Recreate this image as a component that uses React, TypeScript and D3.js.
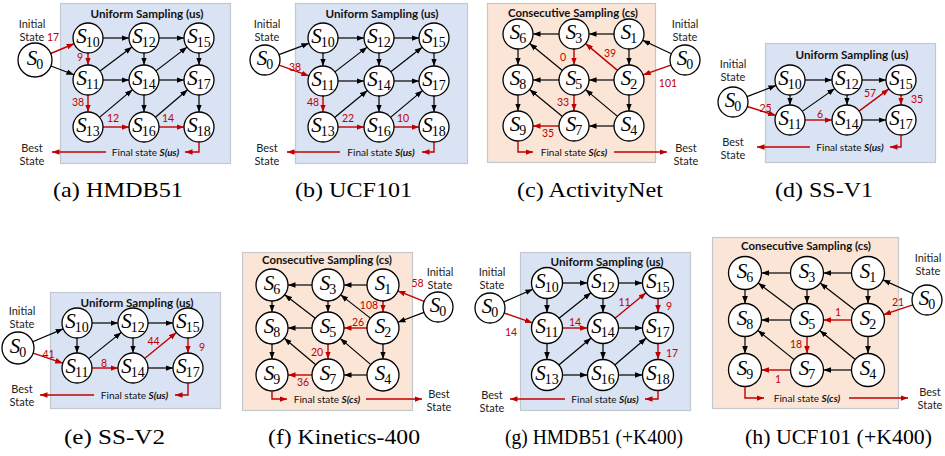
import { useEffect, useRef } from 'react'
import * as d3 from 'd3'

// ---------------- data ----------------
const captions = [
  '(a) HMDB51',
  '(b) UCF101',
  '(c) ActivityNet',
  '(d) SS-V1',
  '(e) SS-V2',
  '(f) Kinetics-400',
  '(g) HMDB51 (+K400)',
  '(h) UCF101 (+K400)',
]

// node ids laid out row by row
const usGrid3 = [['10', '12', '15'], ['11', '14', '17'], ['13', '16', '18']]
const usGrid2 = [['10', '12', '15'], ['11', '14', '17']]
const csGrid3 = [['6', '3', '1'], ['8', '5', '2'], ['9', '7', '4']]

const usEdges = [
  ['0', '10'], ['0', '11'],
  ['10', '12'], ['12', '15'], ['11', '14'], ['14', '17'], ['13', '16'], ['16', '18'],
  ['10', '11'], ['11', '13'], ['12', '14'], ['14', '16'], ['15', '17'], ['17', '18'],
  ['11', '12'], ['14', '15'], ['13', '14'], ['16', '17'],
]
const csEdges = [
  ['0', '1'], ['0', '2'],
  ['1', '3'], ['3', '6'], ['2', '5'], ['5', '8'], ['4', '7'], ['7', '9'],
  ['1', '2'], ['2', '4'], ['3', '5'], ['5', '7'], ['6', '8'], ['8', '9'],
  ['2', '3'], ['5', '6'], ['4', '5'], ['7', '8'],
]

// searched path: [from, to, step count]
const pathA = [['0', '10', '17'], ['10', '11', '9'], ['11', '13', '38'], ['13', '16', '12'], ['16', '18', '14']]
const pathB = [['0', '11', '38'], ['11', '13', '48'], ['13', '16', '22'], ['16', '18', '10']]
const pathC = [['0', '2', '101'], ['2', '3', '39'], ['3', '5', '0'], ['5', '7', '33'], ['7', '9', '35']]
const pathD = [['0', '11', '25'], ['11', '14', '6'], ['14', '15', '57'], ['15', '17', '35']]
const pathE = [['0', '11', '41'], ['11', '14', '8'], ['14', '15', '44'], ['15', '17', '9']]
const pathF = [['0', '1', '58'], ['1', '2', '108'], ['2', '5', '26'], ['5', '7', '20'], ['7', '9', '36']]
const pathG = [['0', '11', '14'], ['11', '14', '14'], ['14', '15', '11'], ['15', '17', '9'], ['17', '18', '17']]
const pathH = [['0', '2', '21'], ['2', '5', '1'], ['5', '7', '18'], ['7', '9', '1']]

// ---------------- layout ----------------
interface Layout {
  box: number[]
  cols: number[]
  rows: number[]
  s0: number[]
  r: number
  r0: number
  title: number[]
  init: number[]
  best: number[]
  final: { y: number; t0: number; t1: number; tip: number }
  cap: number[]
  off: Record<string, number[]>
}

const layouts: Layout[] = [
  { box: [60, 3, 230, 163], cols: [88, 144, 199], rows: [38, 80, 127], s0: [35, 60], r: 15, r0: 17,
    title: [147, 13], init: [32, 23], best: [32, 147], final: { y: 152, t0: 113, t1: 178, tip: 52 },
    cap: [53, 183, 197], off: { '0-10': [-8.5, -12], '10-11': [-8, -2], '11-13': [-10, -1.5], '13-16': [-3, -9], '16-18': [-3.5, -9] } },
  { box: [295, 3, 467, 163], cols: [323, 379, 434], rows: [38, 81, 127], s0: [265, 60], r: 15, r0: 15,
    title: [382, 13], init: [267, 23], best: [267, 147], final: { y: 152, t0: 347, t1: 415, tip: 287 },
    cap: [295, 412, 197], off: { '0-11': [1, -4], '11-13': [-10, -2], '13-16': [-3, -9], '16-18': [-3.5, -9] } },
  { box: [487, 3, 655, 162], cols: [518, 574, 629], rows: [34, 80, 126], s0: [685, 60], r: 15, r0: 15,
    title: [573, 12], init: [685, 23], best: [686, 147], final: { y: 152, t0: 540, t1: 608, tip: 667 },
    cap: [517, 663, 197], off: { '0-2': [11, 13], '2-3': [8.5, -4], '3-5': [-11, 0], '5-7': [-11, -1], '7-9': [2, 7] } },
  { box: [765, 43, 935, 162], cols: [790, 847, 901], rows: [80, 120], s0: [733, 102], r: 15, r0: 15,
    title: [852, 54], init: [733, 63], best: [733, 141], final: { y: 147, t0: 817, t1: 883, tip: 757 },
    cap: [775, 873, 197], off: { '0-11': [4, -3], '11-14': [1.5, -6], '14-15': [-4, -7], '15-17': [16, -1] } },
  { box: [50, 292, 220, 408], cols: [77, 133, 188], rows: [323, 368], s0: [18, 348], r: 15, r0: 16,
    title: [137, 302], init: [22, 310], best: [22, 388], final: { y: 395, t0: 101, t1: 168, tip: 40 },
    cap: [64, 165, 444], off: { '0-11': [1, -4], '11-14': [-1, -5], '14-15': [-7, -5], '15-17': [14, 1] } },
  { box: [242, 252, 412, 410], cols: [272, 328, 383], rows: [285, 328, 375], s0: [438, 307], r: 16, r0: 15,
    title: [327, 259], init: [440, 271], best: [439, 393], final: { y: 399, t0: 294, t1: 360, tip: 422 },
    cap: [268, 420, 444], off: { '0-1': [7, -13], '1-2': [-14, -2], '2-5': [2.5, -6], '5-7': [-11, 0], '7-9': [3, 7] } },
  { box: [520, 252, 690, 410], cols: [547, 603, 658], rows: [283, 328, 375], s0: [490, 308], r: 15.5, r0: 15,
    title: [607, 261], init: [492, 271], best: [492, 394], final: { y: 399, t0: 572, t1: 638, tip: 510 },
    cap: [505, 683, 444], off: { '0-11': [-7.5, 14], '11-14': [0, -6], '14-15': [-6, -4], '15-17': [11, 0], '17-18': [14, 1] } },
  { box: [712, 237, 898, 408], cols: [745, 807, 868], rows: [273, 320, 370], s0: [927, 300], r: 16.5, r0: 15,
    title: [806, 245], init: [928, 257], best: [930, 391], final: { y: 398, t0: 771, t1: 843, tip: 908 },
    cap: [745, 932, 444], off: { '0-2': [0.5, -8], '2-5': [0.5, -8], '5-7': [-11, -1], '7-9': [2, 9] } },
]

const panels = [
  { kind: 'us', grid: usGrid3, path: pathA },
  { kind: 'us', grid: usGrid3, path: pathB },
  { kind: 'cs', grid: csGrid3, path: pathC },
  { kind: 'us', grid: usGrid2, path: pathD },
  { kind: 'us', grid: usGrid2, path: pathE },
  { kind: 'cs', grid: csGrid3, path: pathF },
  { kind: 'us', grid: usGrid3, path: pathG },
  { kind: 'cs', grid: csGrid3, path: pathH },
]

const RED = '#c00000'
const SANS = 'Lato, "Open Sans", sans-serif'
const SERIF = '"Liberation Serif", "Times New Roman", serif'

export default function App() {
  const svgRef = useRef<SVGSVGElement | null>(null)

  useEffect(() => {
    const svg = d3.select(svgRef.current)
    svg.selectAll('*').remove()

    // ================= MARKERS =================
    const defs = svg.append('defs')
    ;[['ah-k', '#000'], ['ah-r', RED]].forEach(([id, c]) => {
      defs
        .append('marker')
        .attr('id', id)
        .attr('viewBox', '0 0 8 6')
        .attr('refX', 8)
        .attr('refY', 3)
        .attr('markerWidth', 7.5)
        .attr('markerHeight', 6)
        .attr('markerUnits', 'userSpaceOnUse')
        .attr('orient', 'auto')
        .append('path')
        .attr('d', 'M0,0L8,3L0,6z')
        .attr('fill', c)
    })

    panels.forEach((p, i) => {
      const L = layouts[i]
      const g = svg.append('g')
      const isUs = p.kind === 'us'

      // ================= SCALES =================
      const x = d3.scaleOrdinal<number, number>().domain([0, 1, 2]).range(L.cols)
      const y = d3.scaleOrdinal<number, number>().domain(d3.range(p.grid.length)).range(L.rows)

      const pos = new Map<string, { x: number; y: number; r: number }>()
      p.grid.forEach((row, ri) =>
        row.forEach((id, ci) => pos.set(id, { x: x(ci), y: y(ri), r: L.r }))
      )
      pos.set('0', { x: L.s0[0], y: L.s0[1], r: L.r0 })

      // ================= BOX =================
      const [bx0, by0, bx1, by1] = L.box
      g.append('rect')
        .attr('x', bx0 + 0.5)
        .attr('y', by0 + 0.5)
        .attr('width', bx1 - bx0)
        .attr('height', by1 - by0)
        .attr('fill', isUs ? '#dae3f3' : '#fbe5d6')
        .attr('stroke', '#c3c8cf')
        .attr('stroke-width', 1.2)

      g.append('text')
        .attr('x', L.title[0])
        .attr('y', L.title[1])
        .attr('text-anchor', 'middle')
        .attr('dominant-baseline', 'central')
        .attr('textLength', isUs ? 113 : 130)
        .attr('lengthAdjust', 'spacingAndGlyphs')
        .style('font-family', SANS)
        .style('font-weight', 700)
        .style('font-size', '11.5px')
        .attr('fill', '#111')
        .text(isUs ? 'Uniform Sampling (us)' : 'Consecutive Sampling (cs)')

      // ================= EDGES =================
      const redKeys = new Set(p.path.map((d) => `${d[0]}-${d[1]}`))
      const edges = (isUs ? usEdges : csEdges).filter(([a, b]) => pos.has(a) && pos.has(b))
      const seg = (a: string, b: string) => {
        const s = pos.get(a)!
        const t = pos.get(b)!
        const dx = t.x - s.x
        const dy = t.y - s.y
        const len = Math.hypot(dx, dy)
        const ux = dx / len
        const uy = dy / len
        return { x1: s.x + ux * s.r, y1: s.y + uy * s.r, x2: t.x - ux * t.r, y2: t.y - uy * t.r }
      }

      const blackEdges = edges.filter(([a, b]) => !redKeys.has(`${a}-${b}`))
      g.selectAll('.edge-k')
        .data(blackEdges)
        .join('line')
        .attr('class', 'edge-k')
        .each(function ([a, b]) {
          const s = seg(a, b)
          d3.select(this).attr('x1', s.x1).attr('y1', s.y1).attr('x2', s.x2).attr('y2', s.y2)
        })
        .attr('stroke', '#000')
        .attr('stroke-width', 1.2)
        .attr('marker-end', 'url(#ah-k)')

      g.selectAll('.edge-r')
        .data(p.path)
        .join('line')
        .attr('class', 'edge-r')
        .each(function ([a, b]) {
          const s = seg(a, b)
          d3.select(this).attr('x1', s.x1).attr('y1', s.y1).attr('x2', s.x2).attr('y2', s.y2)
        })
        .attr('stroke', RED)
        .attr('stroke-width', 1.4)
        .attr('marker-end', 'url(#ah-r)')

      g.selectAll('.edge-lbl')
        .data(p.path)
        .join('text')
        .attr('class', 'edge-lbl')
        .attr('x', ([a, b]) => (pos.get(a)!.x + pos.get(b)!.x) / 2 + (L.off[`${a}-${b}`]?.[0] ?? 0))
        .attr('y', ([a, b]) => (pos.get(a)!.y + pos.get(b)!.y) / 2 + (L.off[`${a}-${b}`]?.[1] ?? 0))
        .attr('text-anchor', 'middle')
        .attr('dominant-baseline', 'central')
        .style('font-family', SANS)
        .style('font-size', '10.5px')
        .attr('fill', RED)
        .text((d) => d[2])

      // ================= NODES =================
      const nodes = Array.from(pos.entries())
      const ng = g
        .selectAll('.node')
        .data(nodes)
        .join('g')
        .attr('class', 'node')
        .attr('transform', ([, v]) => `translate(${v.x},${v.y})`)
      ng.append('circle')
        .attr('r', ([, v]) => v.r)
        .attr('fill', '#fff')
        .attr('stroke', '#000')
        .attr('stroke-width', 1.3)
      const nt = ng
        .append('text')
        .attr('y', 5)
        .attr('text-anchor', 'middle')
        .style('font-family', SERIF)
        .style('font-size', '21px')
      nt.append('tspan').style('font-style', 'italic').text('S')
      nt.append('tspan')
        .attr('dy', 4)
        .attr('dx', -1)
        .style('font-size', '14px')
        .text(([id]) => id)

      // ================= SIDE TEXT =================
      const side = (xy: number[], lines: string[]) => {
        lines.forEach((s, k) =>
          g.append('text')
            .attr('x', xy[0])
            .attr('y', xy[1] + k * 13)
            .attr('text-anchor', 'middle')
            .attr('dominant-baseline', 'central')
            .style('font-family', SANS)
            .style('font-size', '11px')
            .attr('fill', '#222')
            .text(s)
        )
      }
      side(L.init, ['Initial', 'State'])
      side(L.best, ['Best', 'State'])

      // ================= FINAL STATE =================
      const F = L.final
      const ft = g.append('text')
        .attr('x', (F.t0 + F.t1) / 2)
        .attr('y', F.y)
        .attr('text-anchor', 'middle')
        .attr('dominant-baseline', 'central')
        .style('font-family', SANS)
        .style('font-size', '10px')
        .attr('fill', '#111')
      ft.append('tspan').text('Final state ')
      ft.append('tspan')
        .style('font-weight', 700)
        .style('font-style', 'italic')
        .text(isUs ? 'S(us)' : 'S(cs)')

      const last = pos.get(p.path[p.path.length - 1][1])!
      const line = d3.line()
      const connEnd = isUs ? F.t1 + 7 : F.t0 - 7
      g.append('path')
        .attr('d', line([[last.x, last.y + last.r], [last.x, F.y], [connEnd, F.y]]))
        .attr('fill', 'none')
        .attr('stroke', RED)
        .attr('stroke-width', 1.4)
        .attr('marker-end', 'url(#ah-r)')
      g.append('path')
        .attr('d', line([[isUs ? F.t0 - 7 : F.t1 + 6, F.y], [F.tip, F.y]]))
        .attr('fill', 'none')
        .attr('stroke', RED)
        .attr('stroke-width', 1.4)
        .attr('marker-end', 'url(#ah-r)')

      // ================= CAPTION =================
      const [c0, c1, cy] = L.cap
      g.append('text')
        .attr('x', c0)
        .attr('y', cy)
        .attr('textLength', c1 - c0)
        .attr('lengthAdjust', 'spacingAndGlyphs')
        .style('font-family', SERIF)
        .style('font-size', '21px')
        .attr('fill', '#000')
        .text(captions[i])
    })
  }, [])

  return (
    <svg
      ref={svgRef}
      width={945}
      height={456}
      style={{ position: 'absolute', left: 0, top: 0, background: '#fff' }}
    />
  )
}
